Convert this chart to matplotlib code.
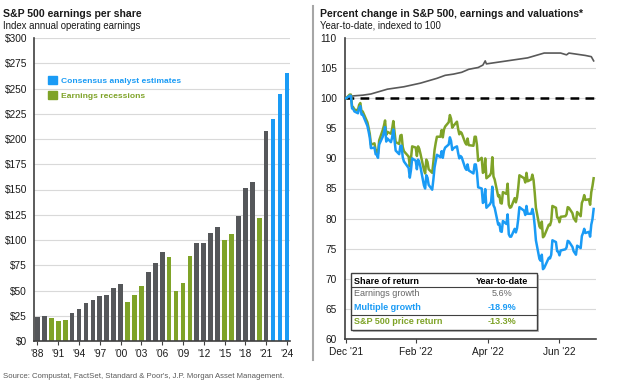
import numpy as np
import pandas as pd
import matplotlib.pyplot as plt
from matplotlib.patches import Patch, Rectangle
from matplotlib.lines import Line2D

plt.rcParams['font.family'] = ['Liberation Sans', 'DejaVu Sans']

# ---- left panel data: S&P 500 operating EPS ----
years = list(range(1988, 2025))
eps = [24, 25, 22.5, 19.6, 21, 28, 32, 38, 41, 45, 45.5, 52, 56,
       39, 46, 54.7, 68, 77, 88, 83, 50, 57, 84, 97, 97, 107, 113,
       100, 106, 124, 151, 157, 122, 208, 220, 245, 265]
recession_years = [1990, 1991, 1992, 2001, 2002, 2003, 2007, 2008, 2009, 2010,
                   2015, 2016, 2020]
estimate_years = [2022, 2023, 2024]

# ---- right panel data: YTD indexed to 100 ----
days = pd.to_datetime([
    '2021-12-31', '2022-01-03', '2022-01-04', '2022-01-05', '2022-01-06', '2022-01-07',
    '2022-01-10', '2022-01-11', '2022-01-12', '2022-01-13', '2022-01-14',
    '2022-01-18', '2022-01-19', '2022-01-20', '2022-01-21',
    '2022-01-24', '2022-01-25', '2022-01-26', '2022-01-27', '2022-01-28',
    '2022-01-31', '2022-02-01', '2022-02-02', '2022-02-03', '2022-02-04',
    '2022-02-07', '2022-02-08', '2022-02-09', '2022-02-10', '2022-02-11',
    '2022-02-14', '2022-02-15', '2022-02-16', '2022-02-17', '2022-02-18',
    '2022-02-22', '2022-02-23', '2022-02-24', '2022-02-25',
    '2022-02-28', '2022-03-01', '2022-03-02', '2022-03-03', '2022-03-04',
    '2022-03-07', '2022-03-08', '2022-03-09', '2022-03-10', '2022-03-11',
    '2022-03-14', '2022-03-15', '2022-03-16', '2022-03-17', '2022-03-18',
    '2022-03-21', '2022-03-22', '2022-03-23', '2022-03-24', '2022-03-25',
    '2022-03-28', '2022-03-29', '2022-03-30', '2022-03-31', '2022-04-01',
    '2022-04-04', '2022-04-05', '2022-04-06', '2022-04-07', '2022-04-08',
    '2022-04-11', '2022-04-12', '2022-04-13', '2022-04-14',
    '2022-04-18', '2022-04-19', '2022-04-20', '2022-04-21', '2022-04-22',
    '2022-04-25', '2022-04-26', '2022-04-27', '2022-04-28', '2022-04-29',
    '2022-05-02', '2022-05-03', '2022-05-04', '2022-05-05', '2022-05-06',
    '2022-05-09', '2022-05-10', '2022-05-11', '2022-05-12', '2022-05-13',
    '2022-05-16', '2022-05-17', '2022-05-18', '2022-05-19', '2022-05-20',
    '2022-05-23', '2022-05-24', '2022-05-25', '2022-05-26', '2022-05-27',
    '2022-05-31', '2022-06-01', '2022-06-02', '2022-06-03',
    '2022-06-06', '2022-06-07', '2022-06-08', '2022-06-09', '2022-06-10',
    '2022-06-13', '2022-06-14', '2022-06-15', '2022-06-16', '2022-06-17',
    '2022-06-21', '2022-06-22', '2022-06-23', '2022-06-24',
    '2022-06-27', '2022-06-28', '2022-06-29', '2022-06-30', '2022-07-01',
    '2022-07-05', '2022-07-06', '2022-07-07', '2022-07-08',
    '2022-07-11', '2022-07-12', '2022-07-13', '2022-07-14', '2022-07-15',
    '2022-07-18', '2022-07-19', '2022-07-20', '2022-07-21', '2022-07-22',
    '2022-07-25', '2022-07-26', '2022-07-27', '2022-07-28', '2022-07-29'])

price = [100.0, 100.6, 100.6, 98.6, 98.5, 98.1,
         98.0, 98.9, 99.2, 97.8, 97.8,
         96.0, 95.1, 94.1, 92.3,
         92.5, 91.4, 91.3, 90.8, 93.0,
         94.7, 95.4, 96.3, 93.9, 94.4,
         94.1, 94.9, 96.2, 94.5, 92.7,
         92.4, 93.8, 93.9, 91.9, 91.2,
         90.3, 88.7, 90.0, 92.0,
         91.8, 90.4, 92.0, 91.6, 90.8,
         88.1, 87.5, 89.8, 89.4, 88.2,
         87.6, 89.4, 91.4, 92.6, 93.6,
         93.6, 94.7, 93.5, 94.8, 95.3,
         96.0, 97.2, 96.6, 95.1, 95.4,
         96.1, 94.9, 94.0, 94.4, 94.2,
         92.6, 92.3, 93.3, 92.2,
         92.1, 93.6, 93.6, 92.2, 89.6,
         90.1, 87.6, 87.8, 90.0, 86.7,
         87.2, 87.6, 90.2, 87.0, 86.5,
         83.7, 83.9, 82.6, 82.5, 84.4,
         84.1, 85.8, 82.3, 81.8, 81.9,
         83.4, 82.7, 83.5, 85.1, 87.2,
         86.7, 86.0, 87.6, 86.2,
         86.5, 87.3, 86.4, 84.3, 81.8,
         78.7, 78.4, 79.5, 76.9, 77.1,
         79.0, 78.9, 79.6, 82.1,
         81.8, 80.2, 80.1, 79.4, 80.3,
         80.4, 80.7, 81.9, 81.8,
         80.9, 80.1, 79.8, 79.5, 81.1,
         80.4, 82.6, 83.1, 83.9, 83.1,
         83.2, 82.3, 84.4, 85.4, 86.7]

multiple = [100.0, 100.4, 100.4, 98.3, 98.2, 97.8,
            97.5, 98.4, 98.7, 97.3, 97.3,
            95.4, 94.5, 93.5, 91.7,
            91.8, 90.7, 90.6, 90.1, 92.3,
            93.6, 94.3, 95.2, 92.8, 93.3,
            92.7, 93.5, 94.8, 93.1, 91.3,
            90.7, 92.1, 92.1, 90.2, 89.5,
            88.4, 86.8, 88.1, 90.0,
            89.6, 88.2, 89.8, 89.4, 88.6,
            85.5, 85.0, 87.2, 86.8, 85.6,
            84.8, 86.5, 88.5, 89.6, 90.6,
            90.2, 91.2, 90.1, 91.3, 91.8,
            92.3, 93.5, 92.9, 91.4, 91.7,
            92.0, 90.9, 90.0, 90.4, 90.2,
            88.4, 88.1, 89.0, 88.0,
            87.5, 89.0, 89.0, 87.6, 85.2,
            85.0, 82.6, 82.8, 84.9, 81.8,
            82.4, 82.8, 85.3, 82.2, 81.8,
            79.0, 79.2, 77.9, 77.8, 79.6,
            79.1, 80.7, 77.4, 77.0, 77.0,
            78.3, 77.7, 78.4, 79.9, 81.9,
            81.3, 80.6, 82.1, 80.8,
            80.8, 81.6, 80.7, 78.8, 76.4,
            73.3, 73.0, 74.0, 71.6, 71.8,
            73.5, 73.4, 74.0, 76.4,
            76.1, 74.6, 74.5, 73.9, 74.7,
            74.9, 75.2, 76.3, 76.2,
            75.3, 74.6, 74.3, 74.0, 75.5,
            75.1, 77.1, 77.6, 78.3, 77.6,
            77.8, 77.0, 79.0, 79.9, 81.6]

earn_days = pd.to_datetime([
    '2021-12-31', '2022-01-03', '2022-01-07', '2022-01-14', '2022-01-21', '2022-01-28',
    '2022-02-04', '2022-02-11', '2022-02-18', '2022-02-25', '2022-03-04', '2022-03-11',
    '2022-03-18', '2022-03-25', '2022-04-01', '2022-04-08', '2022-04-14', '2022-04-22',
    '2022-04-26', '2022-04-28', '2022-04-29', '2022-05-06', '2022-05-13', '2022-05-20',
    '2022-05-27', '2022-06-03', '2022-06-10', '2022-06-17', '2022-06-24', '2022-07-01',
    '2022-07-06', '2022-07-08', '2022-07-15', '2022-07-22', '2022-07-27', '2022-07-29'])
earnings = [100.0, 100.3, 100.4, 100.5, 100.7, 101.1,
            101.5, 101.7, 101.9, 102.2, 102.5, 102.9,
            103.3, 103.8, 104.0, 104.3, 104.8, 105.1,
            105.5, 106.2, 105.7, 105.9, 106.1, 106.3,
            106.5, 106.7, 107.1, 107.5, 107.5, 107.5,
            107.2, 107.5, 107.3, 107.1, 106.9, 106.2]

table_rows = [('Earnings growth', '5.6%'),
              ('Multiple growth', '-18.9%'),
              ('S&P 500 price return', '-13.3%')]

DARK = '#55575a'
GREEN = '#7fa328'
BLUE = '#1a9bf5'
GRID = '#d9d9d9'
TXT = '#1a1a1a'

fig = plt.figure(figsize=(6.24, 3.83), dpi=100)

# ================= left panel =================
ax1 = fig.add_axes([34/624, 1-341/383, 256/624, 303/383])
cols = []
for y in years:
    if y in estimate_years:
        cols.append(BLUE)
    elif y in recession_years:
        cols.append(GREEN)
    else:
        cols.append(DARK)
ax1.bar(years, eps, width=0.68, color=cols, zorder=2)
ax1.set_xlim(1987.5, 2024.45)
ax1.set_ylim(0, 300)
ax1.set_yticks(np.arange(0, 301, 25))
ax1.set_yticklabels(['$%d' % v for v in range(0, 301, 25)])
ax1.set_xticks(list(range(1988, 2025, 3)))
ax1.set_xticklabels(["'%02d" % (y % 100) for y in range(1988, 2025, 3)])
ax1.grid(axis='y', color=GRID, lw=0.8, zorder=0)
for s in ['top', 'right']:
    ax1.spines[s].set_visible(False)
ax1.spines['left'].set_color('#404040')
ax1.spines['left'].set_linewidth(1.2)
ax1.spines['bottom'].set_color('#404040')
ax1.spines['bottom'].set_linewidth(1.2)
ax1.tick_params(axis='y', length=0, pad=5, labelsize=7.3, labelcolor=TXT)
ax1.tick_params(axis='x', length=3, pad=3, labelsize=7.3, labelcolor=TXT, color='#404040')

handles = [Patch(color=BLUE), Patch(color=GREEN)]
leg = ax1.legend(handles, ['Consensus analyst estimates', 'Earnings recessions'],
                 loc='upper left', bbox_to_anchor=(0.04, 0.885), frameon=False,
                 fontsize=6.1, handlelength=1.05, handleheight=1.05, handletextpad=0.5,
                 labelspacing=0.75, borderaxespad=0)
for t, c in zip(leg.get_texts(), [BLUE, GREEN]):
    t.set_color(c)
    t.set_fontweight('bold')

fig.text(0.005, 1-14/383, 'S&P 500 earnings per share', fontsize=7.6, fontweight='bold',
         color=TXT, va='center')
fig.text(0.005, 1-26/383, 'Index annual operating earnings', fontsize=6.9, color=TXT, va='center')

# ================= right panel =================
ax2 = fig.add_axes([345/624, 1-339/383, 251/624, 301/383])
ax2.plot(earn_days, earnings, color='#595959', lw=1.2, zorder=3)
ax2.axhline(100, color='black', lw=1.8, ls=(0, (3.5, 2.5)), zorder=3)
ax2.plot(days, price, color=GREEN, lw=1.8, zorder=4)
ax2.plot(days, multiple, color=BLUE, lw=1.8, zorder=5)
ax2.set_ylim(60, 110)
ax2.set_yticks(np.arange(60, 111, 5))
ax2.set_xlim(pd.Timestamp('2021-12-30'), pd.Timestamp('2022-07-31'))
xt = pd.to_datetime(['2021-12-31', '2022-02-28', '2022-04-30', '2022-06-30'])
ax2.set_xticks(xt)
ax2.set_xticklabels(["Dec '21", "Feb '22", "Apr '22", "Jun '22"])
ax2.grid(axis='y', color=GRID, lw=0.8, zorder=0)
for s in ['top', 'right']:
    ax2.spines[s].set_visible(False)
ax2.spines['left'].set_color('#404040')
ax2.spines['left'].set_linewidth(1.2)
ax2.spines['bottom'].set_color('#404040')
ax2.spines['bottom'].set_linewidth(1.2)
ax2.tick_params(axis='y', length=0, pad=6, labelsize=7.3, labelcolor=TXT)
ax2.tick_params(axis='x', length=3, pad=3, labelsize=7.3, labelcolor=TXT, color='#404040')

# share-of-return table
x0, x1 = 0.024, 0.765
ytop, ybot = 0.219, 0.030
ax2.add_patch(Rectangle((x0 + 0.006, ybot - 0.008), x1 - x0, ytop - ybot, transform=ax2.transAxes,
                        facecolor='#bfbfbf', edgecolor='none', zorder=6))
ax2.add_patch(Rectangle((x0, ybot), x1 - x0, ytop - ybot, transform=ax2.transAxes,
                        facecolor='white', edgecolor='#404040', lw=1.0, zorder=7))
for yl in [(339-287)/301, (339-315)/301]:
    ax2.add_line(Line2D([x0, x1], [yl, yl], transform=ax2.transAxes, color='#404040',
                        lw=0.8, zorder=8))
xl = (354 - 345) / 251
xr = (502 - 345) / 251
yrow = [(339-281)/301, (339-294)/301, (339-308)/301, (339-322)/301]
ax2.text(xl, yrow[0], 'Share of return', transform=ax2.transAxes, fontsize=6.5,
         fontweight='bold', color='black', va='center', zorder=9)
ax2.text(xr, yrow[0], 'Year-to-date', transform=ax2.transAxes, fontsize=6.5,
         fontweight='bold', color='black', va='center', ha='center', zorder=9)
row_style = [('#666666', 'normal'), (BLUE, 'bold'), (GREEN, 'bold')]
for (lab, val), (c, w), yy in zip(table_rows, row_style, yrow[1:]):
    ax2.text(xl, yy, lab, transform=ax2.transAxes, fontsize=6.5, fontweight=w, color=c,
             va='center', zorder=9)
    ax2.text(xr, yy, val, transform=ax2.transAxes, fontsize=6.5, fontweight=w, color=c,
             va='center', ha='center', zorder=9)

fig.text(320/624, 1-14/383, 'Percent change in S&P 500, earnings and valuations*', fontsize=7.5,
         fontweight='bold', color=TXT, va='center')
fig.text(320/624, 1-26/383, 'Year-to-date, indexed to 100', fontsize=6.9, color=TXT, va='center')

# vertical separator between panels
fig.add_artist(Line2D([313/624, 313/624], [1-6/383, 1-360/383], transform=fig.transFigure,
                      color='#a6a6a6', lw=1.5))

fig.text(3/624, 1-376/383,
         "Source: Compustat, FactSet, Standard & Poor's, J.P. Morgan Asset Management.",
         fontsize=5.6, color='#595959', va='center')

fig.savefig('out.png', dpi=100)
